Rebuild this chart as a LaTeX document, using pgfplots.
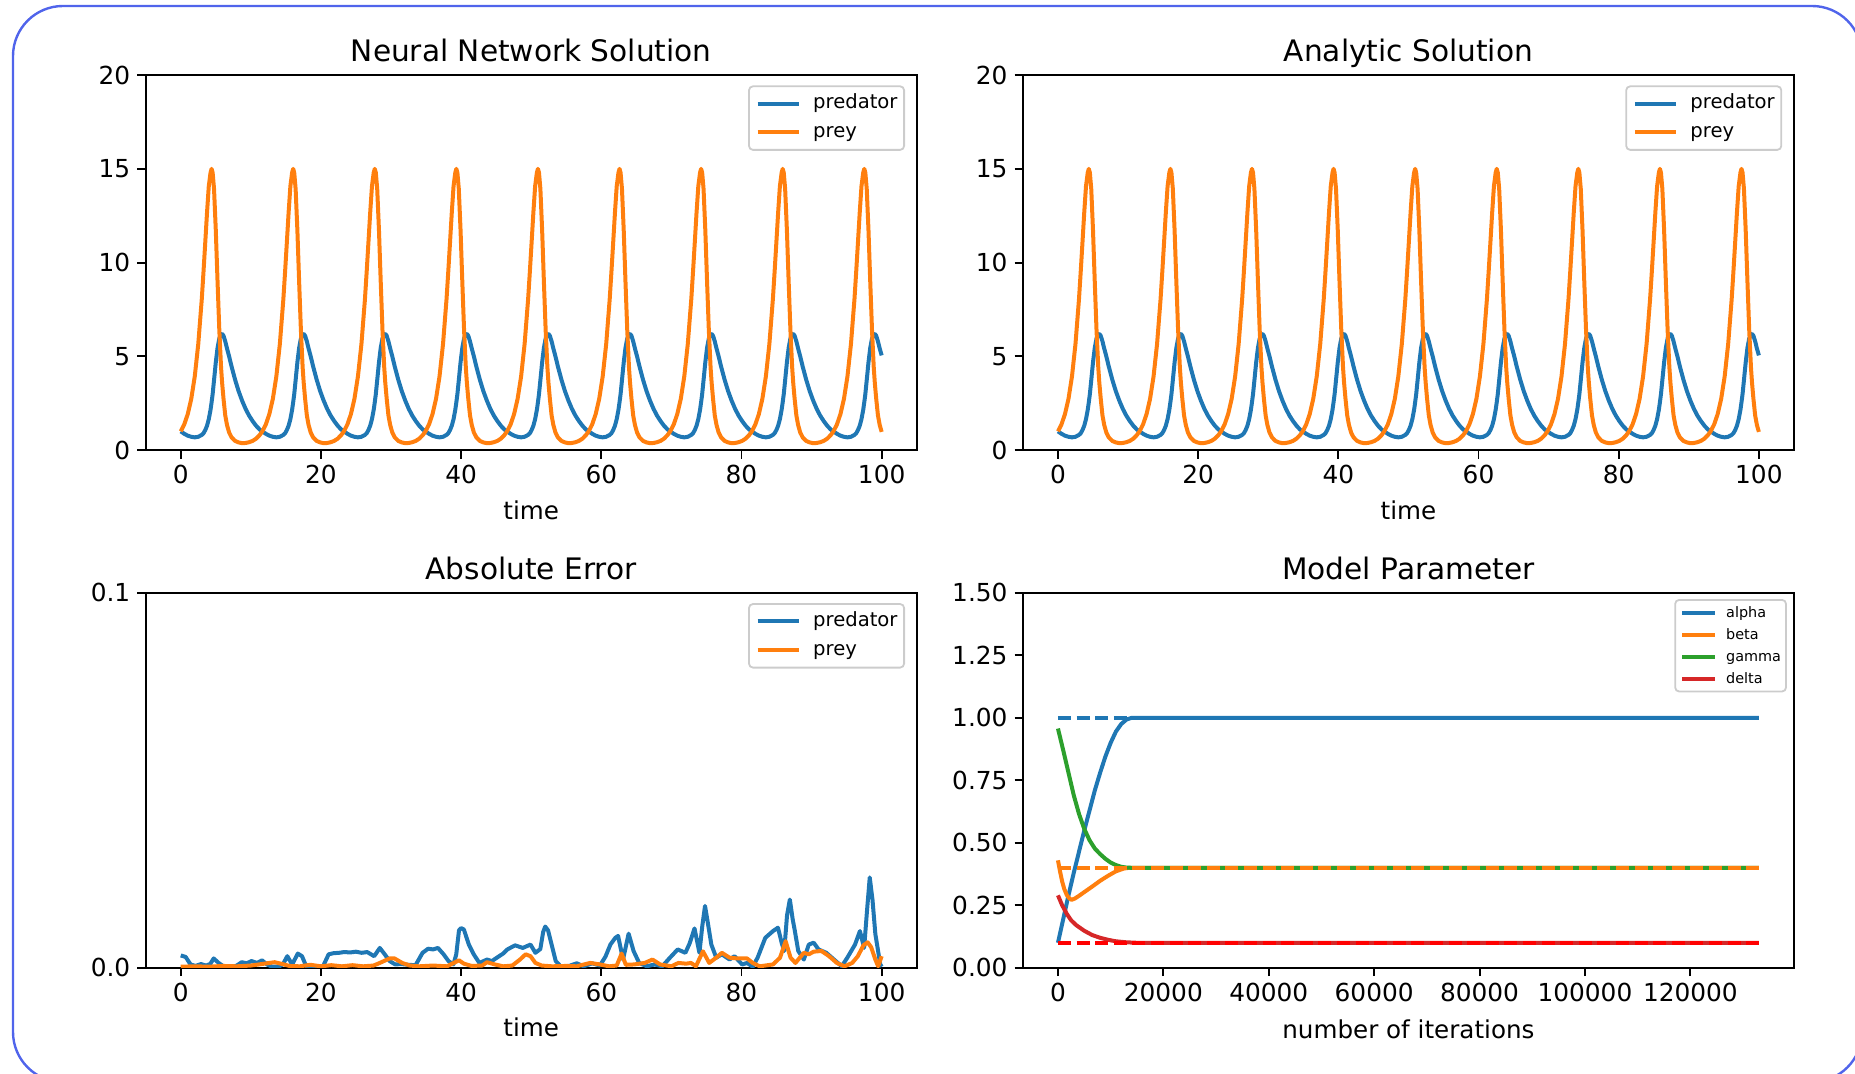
\documentclass[border=0pt]{standalone}
\usepackage{fontspec}
\setmainfont{DejaVu Sans}
\usepackage{pgfplots}
\pgfplotsset{compat=1.18}
\usepackage{pgfplotstable}

\definecolor{tabblue}{HTML}{1F77B4}
\definecolor{taborange}{HTML}{FF7F0E}
\definecolor{tabgreen}{HTML}{2CA02C}
\definecolor{tabred}{HTML}{D62728}
\definecolor{purered}{HTML}{FF0000}
\definecolor{framecol}{RGB}{80,100,235}
\definecolor{legedge}{RGB}{204,204,204}

\pgfplotstableread{
t prey pred
0 1.00 1.00
0.5 1.37 0.87
1 1.92 0.77
1.5 2.73 0.71
2 3.93 0.68
2.5 5.66 0.71
3 8.05 0.81
3.25 9.53 0.90
3.5 11.09 1.07
3.75 12.67 1.30
4 14.07 1.65
4.25 14.80 2.15
4.4 15.00 2.55
4.55 14.80 2.98
4.75 13.93 3.73
5 11.73 4.68
5.25 8.99 5.45
5.5 6.42 5.95
5.75 4.42 6.17
5.9 3.60 6.20
6.1 2.75 6.10
6.35 1.85 5.80
6.6 1.34 5.42
6.9 0.94 5.00
7.25 0.68 4.46
7.75 0.49 3.76
8.25 0.41 3.15
8.75 0.37 2.64
9.25 0.38 2.20
9.75 0.42 1.84
10.25 0.49 1.55
10.75 0.61 1.30
11.25 0.80 1.10
11.64 1.00 1.00
12.14 1.37 0.87
12.64 1.92 0.77
13.14 2.73 0.71
13.64 3.93 0.68
14.14 5.66 0.71
14.64 8.05 0.81
14.89 9.53 0.90
15.14 11.09 1.07
15.39 12.67 1.30
15.64 14.07 1.65
15.89 14.80 2.15
16.04 15.00 2.55
16.19 14.80 2.98
16.39 13.93 3.73
16.64 11.73 4.68
16.89 8.99 5.45
17.14 6.42 5.95
17.39 4.42 6.17
17.54 3.60 6.20
17.74 2.75 6.10
17.99 1.85 5.80
18.24 1.34 5.42
18.54 0.94 5.00
18.89 0.68 4.46
19.39 0.49 3.76
19.89 0.41 3.15
20.39 0.37 2.64
20.89 0.38 2.20
21.39 0.42 1.84
21.89 0.49 1.55
22.39 0.61 1.30
22.89 0.80 1.10
23.28 1.00 1.00
23.78 1.37 0.87
24.28 1.92 0.77
24.78 2.73 0.71
25.28 3.93 0.68
25.78 5.66 0.71
26.28 8.05 0.81
26.53 9.53 0.90
26.78 11.09 1.07
27.03 12.67 1.30
27.28 14.07 1.65
27.53 14.80 2.15
27.68 15.00 2.55
27.83 14.80 2.98
28.03 13.93 3.73
28.28 11.73 4.68
28.53 8.99 5.45
28.78 6.42 5.95
29.03 4.42 6.17
29.18 3.60 6.20
29.38 2.75 6.10
29.63 1.85 5.80
29.88 1.34 5.42
30.18 0.94 5.00
30.53 0.68 4.46
31.03 0.49 3.76
31.53 0.41 3.15
32.03 0.37 2.64
32.53 0.38 2.20
33.03 0.42 1.84
33.53 0.49 1.55
34.03 0.61 1.30
34.53 0.80 1.10
34.92 1.00 1.00
35.42 1.37 0.87
35.92 1.92 0.77
36.42 2.73 0.71
36.92 3.93 0.68
37.42 5.66 0.71
37.92 8.05 0.81
38.17 9.53 0.90
38.42 11.09 1.07
38.67 12.67 1.30
38.92 14.07 1.65
39.17 14.80 2.15
39.32 15.00 2.55
39.47 14.80 2.98
39.67 13.93 3.73
39.92 11.73 4.68
40.17 8.99 5.45
40.42 6.42 5.95
40.67 4.42 6.17
40.82 3.60 6.20
41.02 2.75 6.10
41.27 1.85 5.80
41.52 1.34 5.42
41.82 0.94 5.00
42.17 0.68 4.46
42.67 0.49 3.76
43.17 0.41 3.15
43.67 0.37 2.64
44.17 0.38 2.20
44.67 0.42 1.84
45.17 0.49 1.55
45.67 0.61 1.30
46.17 0.80 1.10
46.56 1.00 1.00
47.06 1.37 0.87
47.56 1.92 0.77
48.06 2.73 0.71
48.56 3.93 0.68
49.06 5.66 0.71
49.56 8.05 0.81
49.81 9.53 0.90
50.06 11.09 1.07
50.31 12.67 1.30
50.56 14.07 1.65
50.81 14.80 2.15
50.96 15.00 2.55
51.11 14.80 2.98
51.31 13.93 3.73
51.56 11.73 4.68
51.81 8.99 5.45
52.06 6.42 5.95
52.31 4.42 6.17
52.46 3.60 6.20
52.66 2.75 6.10
52.91 1.85 5.80
53.16 1.34 5.42
53.46 0.94 5.00
53.81 0.68 4.46
54.31 0.49 3.76
54.81 0.41 3.15
55.31 0.37 2.64
55.81 0.38 2.20
56.31 0.42 1.84
56.81 0.49 1.55
57.31 0.61 1.30
57.81 0.80 1.10
58.20 1.00 1.00
58.70 1.37 0.87
59.20 1.92 0.77
59.70 2.73 0.71
60.20 3.93 0.68
60.70 5.66 0.71
61.20 8.05 0.81
61.45 9.53 0.90
61.70 11.09 1.07
61.95 12.67 1.30
62.20 14.07 1.65
62.45 14.80 2.15
62.60 15.00 2.55
62.75 14.80 2.98
62.95 13.93 3.73
63.20 11.73 4.68
63.45 8.99 5.45
63.70 6.42 5.95
63.95 4.42 6.17
64.10 3.60 6.20
64.30 2.75 6.10
64.55 1.85 5.80
64.80 1.34 5.42
65.10 0.94 5.00
65.45 0.68 4.46
65.95 0.49 3.76
66.45 0.41 3.15
66.95 0.37 2.64
67.45 0.38 2.20
67.95 0.42 1.84
68.45 0.49 1.55
68.95 0.61 1.30
69.45 0.80 1.10
69.84 1.00 1.00
70.34 1.37 0.87
70.84 1.92 0.77
71.34 2.73 0.71
71.84 3.93 0.68
72.34 5.66 0.71
72.84 8.05 0.81
73.09 9.53 0.90
73.34 11.09 1.07
73.59 12.67 1.30
73.84 14.07 1.65
74.09 14.80 2.15
74.24 15.00 2.55
74.39 14.80 2.98
74.59 13.93 3.73
74.84 11.73 4.68
75.09 8.99 5.45
75.34 6.42 5.95
75.59 4.42 6.17
75.74 3.60 6.20
75.94 2.75 6.10
76.19 1.85 5.80
76.44 1.34 5.42
76.74 0.94 5.00
77.09 0.68 4.46
77.59 0.49 3.76
78.09 0.41 3.15
78.59 0.37 2.64
79.09 0.38 2.20
79.59 0.42 1.84
80.09 0.49 1.55
80.59 0.61 1.30
81.09 0.80 1.10
81.48 1.00 1.00
81.98 1.37 0.87
82.48 1.92 0.77
82.98 2.73 0.71
83.48 3.93 0.68
83.98 5.66 0.71
84.48 8.05 0.81
84.73 9.53 0.90
84.98 11.09 1.07
85.23 12.67 1.30
85.48 14.07 1.65
85.73 14.80 2.15
85.88 15.00 2.55
86.03 14.80 2.98
86.23 13.93 3.73
86.48 11.73 4.68
86.73 8.99 5.45
86.98 6.42 5.95
87.23 4.42 6.17
87.38 3.60 6.20
87.58 2.75 6.10
87.83 1.85 5.80
88.08 1.34 5.42
88.38 0.94 5.00
88.73 0.68 4.46
89.23 0.49 3.76
89.73 0.41 3.15
90.23 0.37 2.64
90.73 0.38 2.20
91.23 0.42 1.84
91.73 0.49 1.55
92.23 0.61 1.30
92.73 0.80 1.10
93.12 1.00 1.00
93.62 1.37 0.87
94.12 1.92 0.77
94.62 2.73 0.71
95.12 3.93 0.68
95.62 5.66 0.71
96.12 8.05 0.81
96.37 9.53 0.90
96.62 11.09 1.07
96.87 12.67 1.30
97.12 14.07 1.65
97.37 14.80 2.15
97.52 15.00 2.55
97.67 14.80 2.98
97.87 13.93 3.73
98.12 11.73 4.68
98.37 8.99 5.45
98.62 6.42 5.95
98.87 4.42 6.17
99.02 3.60 6.20
99.22 2.75 6.10
99.47 1.85 5.80
99.72 1.34 5.42
100 0.97 5.05
}\lvdata

\pgfplotstableread{
t err
0 0.0033
0.7 0.0029
1.4 0.0009
2.1 0.0005
2.9 0.0010
3.6 0.0006
4.2 0.0010
4.7 0.0025
5.4 0.0013
6.1 0.0004
7.0 0.0004
7.9 0.0005
8.7 0.0015
9.4 0.0012
10.1 0.0018
10.9 0.0013
11.6 0.0020
12.3 0.0009
13.0 0.0003
14.0 0.0003
14.6 0.0010
15.2 0.0031
15.9 0.0009
16.7 0.0038
17.3 0.0031
17.9 0.0004
19.0 0.0003
20.3 0.0004
21.1 0.0036
21.8 0.0039
22.6 0.0040
23.3 0.0042
24.2 0.0041
25.0 0.0043
25.8 0.0040
26.6 0.0042
27.6 0.0031
28.4 0.0053
29.1 0.0036
29.8 0.0018
30.6 0.0009
31.5 0.0010
32.5 0.0008
33.5 0.0007
34.5 0.0040
35.3 0.0051
36.0 0.0049
36.7 0.0053
37.5 0.0036
38.2 0.0018
38.9 0.0009
39.3 0.0035
39.7 0.0100
40.0 0.0106
40.4 0.0102
41.1 0.0062
41.8 0.0036
42.6 0.0013
43.7 0.0022
44.4 0.0018
45.1 0.0027
46.0 0.0038
46.6 0.0049
47.7 0.0060
48.8 0.0053
49.9 0.0062
50.6 0.0040
51.3 0.0050
51.7 0.0095
52.0 0.0110
52.4 0.0100
52.8 0.0070
53.5 0.0018
54.2 0.0004
55.4 0.0005
56.5 0.0012
57.5 0.0004
58.7 0.0012
59.8 0.0006
60.6 0.0030
61.3 0.0062
62.0 0.0080
62.4 0.0085
63.1 0.0022
63.9 0.0091
64.6 0.0045
65.4 0.0013
66.5 0.0004
67.6 0.0009
68.7 0.0004
69.8 0.0027
70.9 0.0049
72.0 0.0040
72.6 0.0065
73.3 0.0105
74.0 0.0040
74.4 0.0110
74.8 0.0165
75.2 0.0120
75.7 0.0062
76.4 0.0027
77.2 0.0036
78.3 0.0022
79.0 0.0031
80.1 0.0009
80.8 0.0013
81.6 0.0003
82.3 0.0027
83.4 0.0080
84.5 0.0098
85.2 0.0107
85.8 0.0062
86.1 0.0045
86.5 0.0140
86.9 0.0182
87.3 0.0130
87.6 0.0100
88.1 0.0045
88.9 0.0022
89.6 0.0062
90.3 0.0067
91.0 0.0049
92.1 0.0040
93.2 0.0022
94.3 0.0004
95.1 0.0027
96.2 0.0062
96.9 0.0098
97.5 0.0053
97.9 0.0150
98.3 0.0241
98.7 0.0180
99.1 0.0090
99.8 0.0009
100 0.0003
}\errpred

\pgfplotstableread{
t err
0 0.0003
2 0.0004
4 0.0003
6 0.0005
8 0.0004
10 0.0006
12.3 0.0012
13.4 0.0015
14.5 0.0010
15.5 0.0005
17 0.0004
18.5 0.0008
20 0.0004
21.5 0.0007
23 0.0004
24.5 0.0007
26 0.0004
27.5 0.0006
28.4 0.0013
29.8 0.0025
30.5 0.0025
31.6 0.0013
32.7 0.0006
34 0.0004
36 0.0006
38 0.0004
39.7 0.0020
40.4 0.0011
41.5 0.0005
43.0 0.0006
43.7 0.0015
44.8 0.0009
46.0 0.0004
47.3 0.0006
48.4 0.0022
49.2 0.0036
49.9 0.0031
50.6 0.0013
51.5 0.0006
53 0.0004
55 0.0005
56.5 0.0004
58.4 0.0013
59.8 0.0009
61.1 0.0004
62.2 0.0006
62.9 0.0038
63.5 0.0008
64.7 0.0009
66.2 0.0013
67.3 0.0022
68.4 0.0009
70.0 0.0004
71.0 0.0013
72.1 0.0011
72.8 0.0013
73.5 0.0004
74.5 0.0044
75.4 0.0013
76.4 0.0027
77.2 0.0040
78.3 0.0027
79.4 0.0025
80.8 0.0025
81.6 0.0013
82.6 0.0004
84.5 0.0009
85.5 0.0027
86.3 0.0071
87.0 0.0027
87.7 0.0013
88.9 0.0040
89.6 0.0036
90.3 0.0043
91.4 0.0045
92.5 0.0031
93.6 0.0013
94.7 0.0004
95.8 0.0013
96.6 0.0031
97.4 0.0060
98.0 0.0068
98.5 0.0055
99.1 0.0022
99.5 0.0004
100 0.0031
}\errprey

\pgfplotsset{
  mpl/.style={
    scale only axis, width=385.5pt, height=187.5pt,
    axis line style={line width=0.96pt},
    tick align=outside, tick pos=left,
    major tick length=4.2pt,
    every tick/.style={black, line width=0.96pt},
    tick label style={font=\fontsize{12.4}{14}\selectfont},
    /pgf/number format/assume math mode=true,
    title style={font=\fontsize{14.8}{17}\selectfont, at={(axis description cs:0.5,1)}, anchor=base, yshift=0.9pt},
    xlabel style={font=\fontsize{12.3}{14}\selectfont, at={(axis description cs:0.5,0)}, anchor=base, yshift=-34.5pt},
    legend cell align=left,
    legend style={at={(axis description cs:1,1)}, anchor=north east, xshift=-5.85pt, yshift=-5.15pt,
      draw=legedge, line width=0.9pt, rounded corners=2pt, fill=white,
      font=\fontsize{9.8}{11.5}\selectfont, inner xsep=3.3pt, inner ysep=3.7pt,
      row sep=4.4pt, column sep=6.3pt,
      nodes={inner sep=0pt, text height=0.76em, text depth=0.24em}},
    legend image code/.code={\draw[#1, line width=2pt, rounded corners=0pt] (0pt,0pt) -- (20.5pt,0pt);},
  },
  timeax/.style={mpl, xmin=-5, xmax=105, xtick={0,20,40,60,80,100}, xticklabels={0,20,40,60,80,100}, xlabel={time}},
}

\begin{document}
\begin{tikzpicture}
\useasboundingbox (0,0) rectangle (927.5pt,-537pt);
\draw[framecol, line width=1.2pt, rounded corners=25pt] (6.5pt,-3pt) rectangle (931pt,-541pt);

% Top left
\begin{axis}[timeax, at={(72.85pt,-37.55pt)}, anchor=north west,
  ymin=0, ymax=20, ytick={0,5,10,15,20}, yticklabels={0,5,10,15,20},
  title={Neural Network Solution}]
\addplot[tabblue, line width=2pt, line join=round] table[x=t, y=pred]{\lvdata};
\addlegendentry{predator}
\addplot[taborange, line width=2pt, line join=round] table[x=t, y=prey]{\lvdata};
\addlegendentry{prey}
\end{axis}

% Top right
\begin{axis}[timeax, at={(511.45pt,-37.55pt)}, anchor=north west,
  ymin=0, ymax=20, ytick={0,5,10,15,20}, yticklabels={0,5,10,15,20},
  title={Analytic Solution}]
\addplot[tabblue, line width=2pt, line join=round] table[x=t, y=pred]{\lvdata};
\addlegendentry{predator}
\addplot[taborange, line width=2pt, line join=round] table[x=t, y=prey]{\lvdata};
\addlegendentry{prey}
\end{axis}

% Bottom left
\begin{axis}[timeax, at={(72.85pt,-296.4pt)}, anchor=north west,
  ymin=0, ymax=0.1, ytick={0,0.1}, yticklabels={0.0,0.1},
  title={Absolute Error}]
\addplot[tabblue, line width=2pt, line join=round] table[x=t, y=err]{\errpred};
\addlegendentry{predator}
\addplot[taborange, line width=2pt, line join=round] table[x=t, y=err]{\errprey};
\addlegendentry{prey}
\end{axis}

% Bottom right
\begin{axis}[mpl, at={(511.45pt,-296.4pt)}, anchor=north west,
  xmin=-6650, xmax=139650, ymin=0, ymax=1.5,
  scaled x ticks=false, scaled y ticks=false,
  xtick={0,20000,40000,60000,80000,100000,120000},
  xticklabels={0,20000,40000,60000,80000,100000,120000},
  ytick={0,0.25,0.5,0.75,1,1.25,1.5},
  yticklabels={0.00,0.25,0.50,0.75,1.00,1.25,1.50},
  xlabel={number of iterations},
  xlabel style={yshift=-0.7pt},
  title={Model Parameter},
  legend style={xshift=2.35pt, yshift=2.05pt, font=\fontsize{7.2}{8.5}\selectfont,
    inner xsep=2.5pt, inner ysep=1.4pt, row sep=1.0pt, column sep=4.5pt},
  legend image code/.code={\draw[#1, line width=2pt] (0pt,0pt) -- (16.5pt,0pt);}]
\addplot[tabblue, line width=2pt, line join=round] coordinates {
(0,0.10) (1000,0.195) (2000,0.29) (3000,0.38) (4000,0.465) (5000,0.55) (6000,0.63) (7000,0.71) (8000,0.78) (9000,0.845) (10000,0.90) (11000,0.945) (12000,0.975) (13000,0.993) (14000,1.0) (15000,1.0) (133000,1.0)};
\addlegendentry{alpha}
\addplot[taborange, line width=2pt, line join=round] coordinates {
(0,0.43) (400,0.385) (800,0.345) (1200,0.315) (1700,0.29) (2200,0.277) (2600,0.272) (3200,0.277) (4000,0.288) (4800,0.30) (6500,0.325) (8000,0.348) (9500,0.368) (11000,0.386) (12500,0.397) (13500,0.40) (133000,0.40)};
\addlegendentry{beta}
\addplot[tabgreen, line width=2pt, line join=round] coordinates {
(0,0.957) (1000,0.87) (2000,0.78) (3000,0.69) (4000,0.615) (5000,0.555) (6000,0.51) (7000,0.477) (8000,0.455) (9000,0.436) (10000,0.421) (11000,0.411) (12000,0.404) (13000,0.401) (14000,0.40) (133000,0.40)};
\addlegendentry{gamma}
\addplot[tabred, line width=2pt, line join=round] coordinates {
(0,0.29) (800,0.25) (1700,0.215) (2500,0.19) (3500,0.17) (5000,0.148) (6500,0.131) (8000,0.12) (9500,0.112) (11000,0.106) (13000,0.102) (15000,0.10) (133000,0.10)};
\addlegendentry{delta}
\addplot[tabblue, line width=2pt, dash pattern=on 6.5pt off 2.8pt, forget plot] coordinates {(0,1.0) (133000,1.0)};
\addplot[tabgreen, line width=2pt, dash pattern=on 6.5pt off 2.8pt, forget plot] coordinates {(0,0.4) (133000,0.4)};
\addplot[taborange, line width=2pt, dash pattern=on 6.5pt off 2.8pt, forget plot] coordinates {(0,0.4) (133000,0.4)};
\addplot[purered, line width=2pt, dash pattern=on 6.5pt off 2.8pt, forget plot] coordinates {(0,0.1) (133000,0.1)};
\end{axis}
\end{tikzpicture}
\end{document}
